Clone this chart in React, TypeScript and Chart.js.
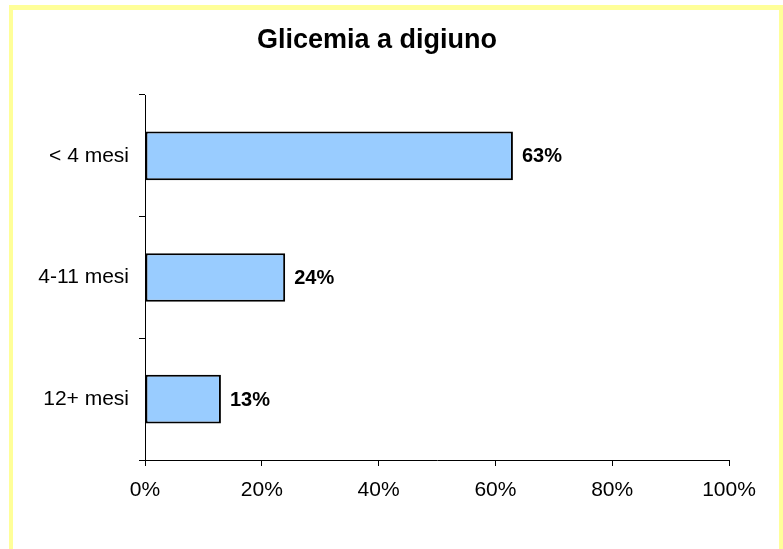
import React, { useEffect, useRef } from "react";
import { Chart, registerables } from "chart.js";

Chart.register(...registerables);

const TITLE = "Glicemia a digiuno";
const categories = ["< 4 mesi", "4-11 mesi", "12+ mesi"];
const values = [63, 24, 13];
const xTicks = [0, 20, 40, 60, 80, 100];

const FONT = "Arial, 'Liberation Sans', sans-serif";

const framePlugin = {
  id: "frame",
  beforeDraw(chart: any) {
    const ctx = chart.ctx;
    ctx.save();
    ctx.fillStyle = "#ffffff";
    ctx.fillRect(0, 0, chart.width, chart.height);
    ctx.fillStyle = "#FFFF99";
    ctx.fillRect(9, 5, 4, chart.height - 5);
    ctx.fillRect(9, 5, chart.width - 9, 5);
    ctx.fillRect(779, 5, 4, chart.height - 5);
    ctx.fillStyle = "#000";
    ctx.font = `bold 27px ${FONT}`;
    ctx.textAlign = "center";
    ctx.textBaseline = "alphabetic";
    ctx.fillText(TITLE, 377, 48);
    ctx.restore();
  },
};

const labelPlugin = {
  id: "barLabels",
  afterDatasetsDraw(chart: any) {
    const ctx = chart.ctx;
    const meta = chart.getDatasetMeta(0);
    ctx.save();
    ctx.fillStyle = "#000";
    ctx.font = `bold 20px ${FONT}`;
    ctx.textAlign = "left";
    ctx.textBaseline = "middle";
    meta.data.forEach((bar: any, i: number) => {
      ctx.fillText(values[i] + "%", bar.x + 9, bar.y + 1);
    });
    ctx.restore();
  },
};

export default function App() {
  const ref = useRef<HTMLCanvasElement>(null);
  useEffect(() => {
    if (!ref.current) return;
    const chart = new Chart(ref.current, {
      type: "bar",
      data: {
        labels: categories,
        datasets: [
          {
            data: values,
            backgroundColor: "#99CCFF",
            borderColor: "#000000",
            borderWidth: 2,
            borderSkipped: false,
            barPercentage: 0.4,
            categoryPercentage: 1,
          },
        ],
      },
      options: {
        indexAxis: "y",
        responsive: false,
        animation: false,
        layout: { padding: { top: 95, right: 54, left: 0, bottom: 0 } },
        plugins: {
          legend: { display: false },
          title: { display: false },
          tooltip: { enabled: false },
        },
        scales: {
          x: {
            min: 0,
            max: 100,
            afterBuildTicks: (scale: any) => {
              scale.ticks = xTicks.map((v) => ({ value: v }));
            },
            afterFit: (scale: any) => {
              scale.height = 89;
            },
            ticks: {
              color: "#000",
              font: { family: FONT, size: 21 },
              padding: 12,
              callback: (v: any) => v + "%",
              maxRotation: 0,
            },
            grid: {
              drawOnChartArea: false,
              drawTicks: true,
              tickLength: 6,
              color: "#000",
            },
            border: { color: "#000", width: 1 },
          },
          y: {
            afterFit: (scale: any) => {
              scale.width = 145;
            },
            ticks: {
              color: "#000",
              font: { family: FONT, size: 21 },
              padding: 10,
            },
            grid: {
              drawOnChartArea: false,
              drawTicks: true,
              tickLength: 6,
              color: "#000",
              offset: true,
            },
            border: { color: "#000", width: 1 },
          },
        },
      },
      plugins: [framePlugin, labelPlugin],
    });
    return () => chart.destroy();
  }, []);
  return (
    <div style={{ position: "absolute", left: 0, top: 0, width: 783, height: 549 }}>
      <canvas ref={ref} width={783} height={549} style={{ display: "block" }} />
    </div>
  );
}
